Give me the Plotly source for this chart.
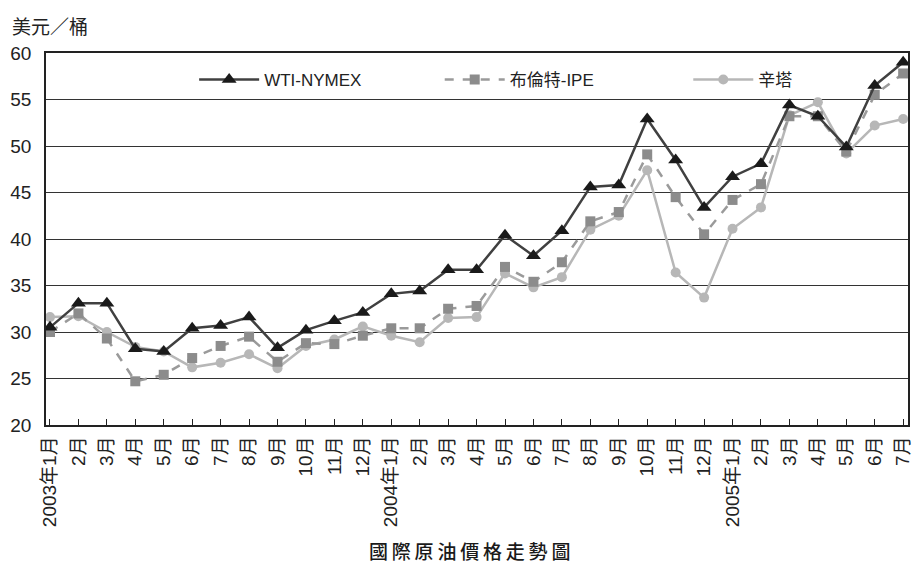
import plotly.graph_objects as go

# Monthly crude prices, Jan 2003 - Jul 2005 (USD per barrel)
months = ["2003年1月", "2月", "3月", "4月", "5月", "6月", "7月", "8月", "9月", "10月", "11月", "12月",
          "2004年1月", "2月", "3月", "4月", "5月", "6月", "7月", "8月", "9月", "10月", "11月", "12月",
          "2005年1月", "2月", "3月", "4月", "5月", "6月", "7月"]

wti = [30.5, 33.1, 33.1, 28.2, 27.9, 30.4, 30.7, 31.6, 28.3, 30.2, 31.2, 32.1,
       34.1, 34.4, 36.7, 36.7, 40.4, 38.2, 40.9, 45.6, 45.8, 52.9, 48.5, 43.4,
       46.7, 48.1, 54.4, 53.2, 49.9, 56.5, 59.0]

brent = [30.0, 32.0, 29.3, 24.7, 25.4, 27.2, 28.5, 29.5, 26.8, 28.8, 28.7, 29.6,
         30.4, 30.4, 32.5, 32.8, 37.0, 35.4, 37.5, 41.9, 42.9, 49.1, 44.5, 40.5,
         44.2, 45.9, 53.2, 53.2, 49.4, 55.5, 57.8]

dubai = [31.6, 31.7, 30.0, 28.4, 27.9, 26.2, 26.7, 27.6, 26.1, 28.5, 29.2, 30.6,
         29.6, 28.9, 31.5, 31.6, 36.3, 34.8, 35.9, 41.0, 42.5, 47.4, 36.4, 33.7,
         41.1, 43.4, 53.3, 54.7, 49.2, 52.2, 52.9]

series_names = ["WTI-NYMEX", "布倫特-IPE", "辛塔"]
y_ticks = [20, 25, 30, 35, 40, 45, 50, 55, 60]

FONT = "Liberation Sans, Arial, Noto Sans CJK TC, sans-serif"
CJK = "Noto Sans CJK TC, sans-serif"
idx = list(range(len(months)))

# plot-area geometry in pixels, used to place legends and labels
L, T, W, H = 46, 53, 867, 372


def px_x(p):
    return (p - L) / W


def px_y(p):
    return (T + H - p) / H


fig = go.Figure()
fig.add_trace(go.Scatter(
    x=idx, y=dubai, name=series_names[2], mode="lines+markers", legend="legend3",
    showlegend=True,
    line=dict(color="#b7b7b7", width=2.5),
    marker=dict(symbol="circle", size=10, color="#b7b7b7"),
))
fig.add_trace(go.Scatter(
    x=idx, y=brent, name=series_names[1], mode="lines+markers", legend="legend2",
    showlegend=True,
    line=dict(color="#9a9a9a", width=2.5, dash="dash"),
    marker=dict(symbol="square", size=10, color="#8c8c8c"),
))
fig.add_trace(go.Scatter(
    x=idx, y=wti, name=series_names[0], mode="lines+markers", legend="legend",
    showlegend=True,
    line=dict(color="#404040", width=2.5),
    marker=dict(symbol="triangle-up", size=13, color="#1a1a1a"),
))

legend_style = dict(
    orientation="h", yanchor="middle", xanchor="left", y=px_y(80),
    itemwidth=60, bgcolor="rgba(0,0,0,0)",
    font=dict(size=17, family=FONT, color="#222"),
)

fig.update_layout(
    width=916, height=563,
    showlegend=True,
    margin=dict(l=L, r=916 - L - W, t=T, b=563 - T - H),
    paper_bgcolor="white", plot_bgcolor="white",
    font=dict(family=FONT, color="#222", size=17),
    legend=dict(legend_style, x=px_x(195)),
    legend2=dict(legend_style, x=px_x(442)),
    legend3=dict(legend_style, x=px_x(692)),
    xaxis=dict(
        range=[-0.14, 30.17],
        tickmode="array", tickvals=idx, ticktext=months, tickangle=-90,
        ticks="inside", ticklen=6, tickcolor="#222",
        showgrid=False, zeroline=False,
        showline=True, linecolor="#222", linewidth=1.5, mirror=True,
        tickfont=dict(size=19, family=FONT, color="#222"),
        ticklabelstandoff=2, ticklabeloverflow="allow",
    ),
    yaxis=dict(
        range=[20, 60], tickmode="array", tickvals=y_ticks,
        ticks="", showgrid=True, gridcolor="#333", gridwidth=1.2,
        zeroline=False,
        showline=True, linecolor="#222", linewidth=1.5, mirror=True,
        tickfont=dict(size=19, family=FONT, color="#222"),
        ticklabelstandoff=9,
    ),
    annotations=[
        dict(text="美元／桶", xref="paper", yref="paper",
             x=px_x(10), y=px_y(25), xanchor="left", yanchor="middle",
             showarrow=False, font=dict(size=19, family=CJK, color="#222")),
        dict(text="\u2009".join("國際原油價格走勢圖"), xref="paper", yref="paper",
             x=px_x(472), y=px_y(550), xanchor="center", yanchor="middle",
             showarrow=False, font=dict(size=19, family=CJK, color="#1a1a1a", weight=500)),
    ],
)

fig.write_html("out.html")
